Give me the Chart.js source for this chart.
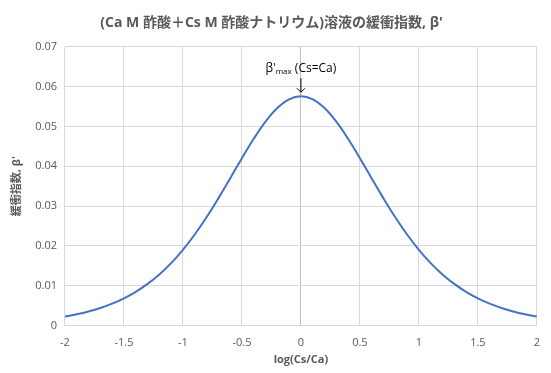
<!DOCTYPE html>
<html>
<head>
<meta charset="utf-8">
<script src="https://cdn.jsdelivr.net/npm/chart.js@4"></script>
<style>
  html, body { margin: 0; padding: 0; background: #fff; }
  #wrap { width: 551px; height: 373px; position: relative; }
</style>
</head>
<body>
<div id="wrap"><canvas id="chart"></canvas></div>
<script>
// log(Cs/Ca) values
const logRatio = [
  -2.0, -1.9, -1.8, -1.7, -1.6, -1.5, -1.4, -1.3, -1.2, -1.1,
  -1.0, -0.9, -0.8, -0.7, -0.6, -0.5, -0.4, -0.3, -0.2, -0.1,
  0.0,
  0.1, 0.2, 0.3, 0.4, 0.5, 0.6, 0.7, 0.8, 0.9, 1.0,
  1.1, 1.2, 1.3, 1.4, 1.5, 1.6, 1.7, 1.8, 1.9, 2.0
];
// buffer index beta'
const beta = [
  0.00226, 0.00283, 0.00354, 0.00442, 0.00550, 0.00684, 0.00848, 0.01047, 0.01286, 0.01570,
  0.01903, 0.02287, 0.02720, 0.03194, 0.03695, 0.04204, 0.04690, 0.05122, 0.05463, 0.05682,
  0.05758,
  0.05682, 0.05463, 0.05122, 0.04690, 0.04204, 0.03695, 0.03194, 0.02720, 0.02287, 0.01903,
  0.01570, 0.01286, 0.01047, 0.00848, 0.00684, 0.00550, 0.00442, 0.00354, 0.00283, 0.00226
];
const xTicks = [-2, -1.5, -1, -0.5, 0, 0.5, 1, 1.5, 2];
const yTicks = [0, 0.01, 0.02, 0.03, 0.04, 0.05, 0.06, 0.07];

const titleText = '(Ca M 酢酸＋Cs M 酢酸ナトリウム)溶液の緩衝指数, β\'';
const xTitle = 'log(Cs/Ca)';
const yTitle = '緩衝指数, β\'';
const peakX = 0;
const peakY = 0.05758;

const fontFamily = '"Open Sans", "Noto Sans CJK JP", sans-serif';
const grey = '#595959';

const points = logRatio.map((x, i) => ({ x: x, y: beta[i] }));

// draws the "β'max (Cs=Ca)" note and arrow over the peak
const peakNote = {
  id: 'peakNote',
  afterDatasetsDraw(chart) {
    const { ctx, scales } = chart;
    const px = scales.x.getPixelForValue(peakX);
    const py = scales.y.getPixelForValue(peakY);
    ctx.save();
    ctx.fillStyle = '#000';
    ctx.textBaseline = 'alphabetic';
    const base = '12px ' + fontFamily;
    const small = '8px ' + fontFamily;
    const parts = [["β'", base, 0], ['max', small, 2], [' (Cs=Ca)', base, 0]];
    let w = 0;
    parts.forEach(p => { ctx.font = p[1]; w += ctx.measureText(p[0]).width; });
    let tx = px - w / 2;
    const ty = py - 24;
    parts.forEach(p => {
      ctx.font = p[1];
      ctx.fillText(p[0], tx, ty + p[2]);
      tx += ctx.measureText(p[0]).width;
    });
    // arrow
    ctx.strokeStyle = '#000';
    ctx.lineWidth = 1;
    ctx.beginPath();
    ctx.moveTo(px, py - 18);
    ctx.lineTo(px, py - 4);
    ctx.moveTo(px - 4, py - 8);
    ctx.lineTo(px, py - 4);
    ctx.lineTo(px + 4, py - 8);
    ctx.stroke();
    ctx.restore();
  }
};

new Chart(document.getElementById('chart'), {
  type: 'line',
  data: {
    datasets: [{
      data: points,
      borderColor: '#4472c4',
      borderWidth: 2,
      pointRadius: 0,
      tension: 0.4,
      fill: false
    }]
  },
  options: {
    responsive: true,
    maintainAspectRatio: false,
    animation: false,
    layout: { padding: { left: 6, right: 14, top: 11, bottom: 3 } },
    plugins: {
      legend: { display: false },
      tooltip: { enabled: false },
      title: {
        display: true,
        text: titleText,
        color: grey,
        font: { family: fontFamily, size: 14, weight: 'bold' },
        padding: { top: 4, bottom: 15 }
      }
    },
    scales: {
      x: {
        type: 'linear',
        min: -2,
        max: 2,
        afterBuildTicks: axis => { axis.ticks = xTicks.map(v => ({ value: v })); },
        ticks: {
          color: grey,
          font: { family: fontFamily, size: 11 },
          padding: 11,
          maxRotation: 0,
          callback: v => String(v)
        },
        grid: {
          color: ctx => (ctx.tick && ctx.tick.value === 0) ? '#bfbfbf' : '#d9d9d9',
          drawTicks: false
        },
        border: { color: '#d9d9d9' },
        title: {
          display: true,
          text: xTitle,
          color: grey,
          font: { family: fontFamily, size: 11, weight: 'bold' },
          padding: { top: -8 }
        }
      },
      y: {
        min: 0,
        max: 0.07,
        afterBuildTicks: axis => { axis.ticks = yTicks.map(v => ({ value: v })); },
        ticks: {
          color: grey,
          font: { family: fontFamily, size: 11 },
          padding: 8,
          callback: v => String(Math.round(v * 100) / 100)
        },
        grid: { color: '#d9d9d9', drawTicks: false },
        border: { display: false },
        title: {
          display: true,
          text: yTitle,
          color: grey,
          font: { family: fontFamily, size: 11, weight: 'bold' },
          padding: { bottom: 4 }
        }
      }
    }
  },
  plugins: [peakNote]
});
</script>
</body>
</html>
